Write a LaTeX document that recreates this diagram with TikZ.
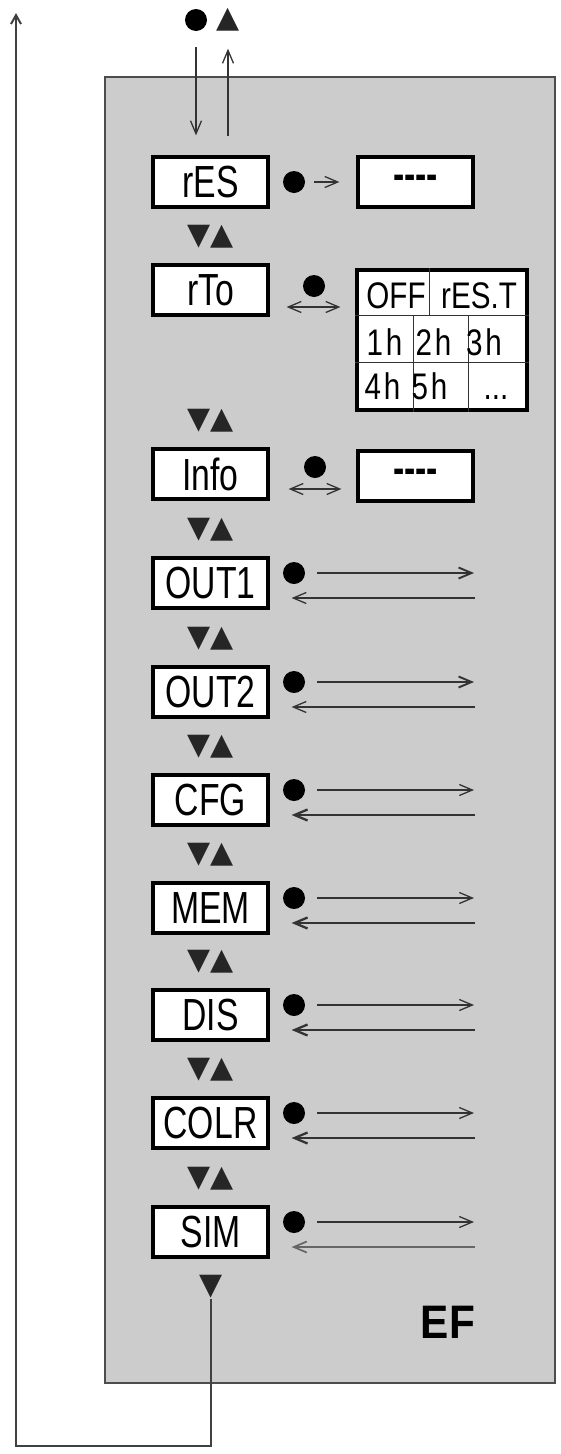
\documentclass[tikz,border=0pt]{standalone}
\usepackage{fontspec}
\usetikzlibrary{arrows.meta,calc}
\newfontfamily\lcd[FakeStretch=0.75]{Liberation Sans}
\newfontfamily\lcdt[FakeStretch=0.8]{Liberation Sans}
\newfontfamily\lcdb[FakeStretch=0.9]{Liberation Sans}
\newfontfamily\keyfont{DejaVu Sans}
\definecolor{panel}{gray}{0.8}
\definecolor{ink}{gray}{0.2}
\tikzset{
  menu/.style={draw=black,line width=3.2pt,fill=white,minimum width=115pt,minimum height=50pt,inner sep=0pt,font=\lcd\fontsize{45}{45}\selectfont},
  cell/.style={anchor=base,inner sep=0pt,font=\lcdt\fontsize{37}{37}\selectfont},
  grid/.style={draw=ink,line width=1.2pt},
  dot/.style={circle,fill=black,minimum size=22pt,inner sep=0pt},
  keys/.style={inner sep=0pt,text=black!85,font=\keyfont\fontsize{30}{30}\selectfont},
  lnk/.style={draw=ink,line width=1.3pt,-{Straight Barb[length=13pt,width=11pt]}},
  dbl/.style={draw=ink,line width=1.3pt,{Straight Barb[length=13pt,width=11pt]}-{Straight Barb[length=13pt,width=11pt]}},
}
\begin{document}
\begin{tikzpicture}[x=1pt,y=-1pt]
  \useasboundingbox (0,0) rectangle (560,1454);
  \def\bx{210.5}
  \def\rx{415.5}
  \fill[panel,draw=black!70,line width=1.4pt] (105,77) rectangle (555,1383);
  % top keys
  \node [dot] (Dtop) at (196,20) {};
  \node [keys] (Ttop) at (228,20) {▲};
  % rES
  \node [menu] (A0_0) at (\bx,182) {rES};
  \node [menu] (A0_1) at (\rx,182) {\bfseries -{}-{}-{}-};
  \node [dot] (D0) at (294,182) {};
  \path (Dtop) edge [lnk,shorten <=16pt,shorten >=20pt] (Dtop |- A0_0.north);
  \path (Ttop |- A0_0.north) edge [lnk,shorten <=19pt,shorten >=17pt] (Ttop);
  \path (D0) edge [lnk,shorten <=9pt,shorten >=17pt] (A0_1);
  \node [keys] (K0) at (\bx,237) {▼▲};
  % rTo
  \node [menu] (A1_0) at (\bx,290) {rTo};
  \node [draw=black,line width=3.2pt,fill=white,minimum width=170pt,minimum height=140pt,inner sep=0pt] (A1_1) at (442,340) {};
  \draw [grid] ($(A1_1.north west)+(0,47)$) -- ($(A1_1.north east)+(0,47)$);
  \draw [grid] ($(A1_1.north west)+(0,94)$) -- ($(A1_1.north east)+(0,94)$);
  \draw [grid] ($(A1_1.north west)+(74,0)$) -- ($(A1_1.north west)+(74,47)$);
  \draw [grid] ($(A1_1.north west)+(58,47)$) -- ($(A1_1.south west)+(58,0)$);
  \draw [grid] ($(A1_1.north west)+(113,47)$) -- ($(A1_1.south west)+(113,0)$);
  \node [cell] (A1_1a) at (396,308) {OFF};
  \node [cell] (A1_1b) at (479,308) {rES.T};
  \node [cell] (A1_1c) at (384.5,355) {1\kern3pt h};
  \node [cell] (A1_1d) at (433.5,355) {2\kern3pt h};
  \node [cell] (A1_1e) at (484,355) {3\kern3pt h};
  \node [cell] (A1_1f) at (382.5,399) {4\kern3pt h};
  \node [cell] (A1_1g) at (429.5,399) {5\kern3pt h};
  \node [cell] (A1_1h) at (496,399) {...};
  \node [dot] (D1) at (314,286) {};
  \path ($(A1_0.east)+(17,17)$) edge [dbl] ($(A1_1.west |- A1_0.east)+(-15,17)$);
  \node [keys] (K1) at (\bx,421) {▼▲};
  % Info
  \node [menu] (A2_0) at (\bx,474) {Info};
  \node [menu] (A2_1) at (\rx,476) {\bfseries -{}-{}-{}-};
  \node [dot] (D2) at (315,467) {};
  \path ($(A2_0.east)+(19,15)$) edge [dbl] ($(A2_1.west)+(-15,13)$);
  \node [keys] (K2) at (\bx,530) {▼▲};
  % OUT1
  \node [menu] (A3_0) at (\bx,583) {OUT1};
  \node [dot] (D3) at (294,573) {};
  \coordinate (R3) at (474,573);
  \coordinate (L3) at (475,598);
  \path (D3) edge [lnk,line width=1.9pt,shorten <=12pt] (R3);
  \path (L3) edge [lnk,shorten >=22pt] (L3 -| A3_0.east);
  \node [keys] (K3) at (\bx,639) {▼▲};
  % OUT2
  \node [menu] (A4_0) at (\bx,692) {OUT2};
  \node [dot] (D4) at (294,682) {};
  \coordinate (R4) at (474,682);
  \coordinate (L4) at (475,707);
  \path (D4) edge [lnk,line width=1.9pt,shorten <=12pt] (R4);
  \path (L4) edge [lnk,shorten >=22pt] (L4 -| A4_0.east);
  \node [keys] (K4) at (\bx,747) {▼▲};
  % CFG
  \node [menu] (A5_0) at (\bx,800) {CFG};
  \node [dot] (D5) at (294,790) {};
  \coordinate (R5) at (474,790);
  \coordinate (L5) at (475,815);
  \path (D5) edge [lnk,shorten <=12pt] (R5);
  \path (L5) edge [lnk,line width=2.3pt,shorten >=22pt] (L5 -| A5_0.east);
  \node [keys] (K5) at (\bx,855) {▼▲};
  % MEM
  \node [menu] (A6_0) at (\bx,908) {MEM};
  \node [dot] (D6) at (294,898) {};
  \coordinate (R6) at (474,898);
  \coordinate (L6) at (475,923);
  \path (D6) edge [lnk,shorten <=12pt] (R6);
  \path (L6) edge [lnk,line width=2.3pt,shorten >=22pt] (L6 -| A6_0.east);
  \node [keys] (K6) at (\bx,962) {▼▲};
  % DIS
  \node [menu] (A7_0) at (\bx,1015) {DIS};
  \node [dot] (D7) at (294,1005) {};
  \coordinate (R7) at (474,1005);
  \coordinate (L7) at (475,1030);
  \path (D7) edge [lnk,shorten <=12pt] (R7);
  \path (L7) edge [lnk,line width=2.3pt,shorten >=22pt] (L7 -| A7_0.east);
  \node [keys] (K7) at (\bx,1070) {▼▲};
  % COLR
  \node [menu] (A8_0) at (\bx,1123) {COLR};
  \node [dot] (D8) at (294,1113) {};
  \coordinate (R8) at (474,1113);
  \coordinate (L8) at (475,1138);
  \path (D8) edge [lnk,shorten <=12pt] (R8);
  \path (L8) edge [lnk,line width=2.3pt,shorten >=22pt] (L8 -| A8_0.east);
  \node [keys] (K8) at (\bx,1179) {▼▲};
  % SIM
  \node [menu] (A9_0) at (\bx,1232) {SIM};
  \node [dot] (D9) at (294,1222) {};
  \coordinate (R9) at (474,1222);
  \coordinate (L9) at (475,1247);
  \path (D9) edge [lnk,shorten <=12pt] (R9);
  \path (L9) edge [lnk,draw=black!60,line width=1.7pt,shorten >=22pt] (L9 -| A9_0.east);
  \node [keys] (K9) at (211,1287) {▼};
  % back to the top
  \coordinate (Lbot) at (16,1446);
  \coordinate (Ltop) at (16,13);
  \draw [draw=black!75,line width=2pt,-{Straight Barb[length=9pt,width=10pt]}] (K9.south) |- (Lbot) -- (Ltop);
  \node [font=\lcdb\bfseries\fontsize{47}{47}\selectfont] (EF) at (448,1322) {EF};
\end{tikzpicture}
\end{document}
